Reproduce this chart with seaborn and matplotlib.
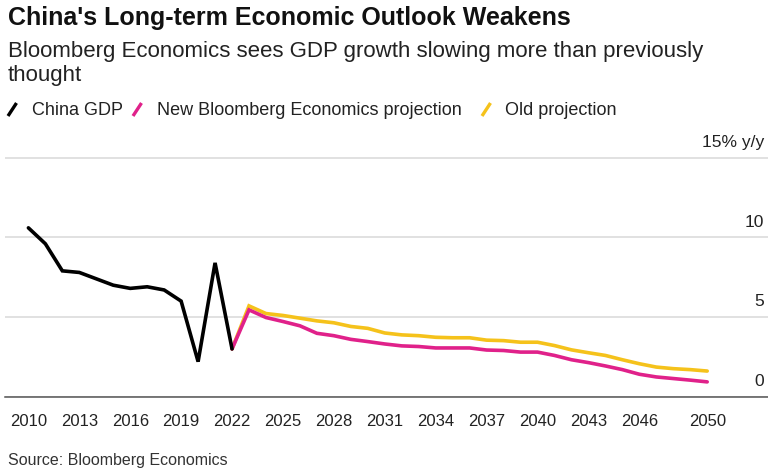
import numpy as np
import pandas as pd
import matplotlib
matplotlib.use("Agg")
import matplotlib.pyplot as plt
from matplotlib.lines import Line2D
from matplotlib.transforms import blended_transform_factory
import seaborn as sns

# ---- data ----
hist_years = [2010, 2011, 2012, 2013, 2014, 2015, 2016, 2017, 2018, 2019, 2020, 2021, 2022]
hist_gdp = [10.6, 9.6, 7.9, 7.8, 7.4, 7.0, 6.8, 6.9, 6.7, 6.0, 2.2, 8.4, 3.0]

proj_years = [2022, 2023, 2024, 2025, 2026, 2027, 2028, 2029, 2030, 2031, 2032, 2033, 2034, 2035,
              2036, 2037, 2038, 2039, 2040, 2041, 2042, 2043, 2044, 2045, 2046, 2047, 2048, 2049, 2050]
new_proj = [3.0, 5.45, 4.97, 4.72, 4.45, 3.98, 3.83, 3.6, 3.46, 3.31, 3.19, 3.15, 3.06, 3.06,
            3.06, 2.93, 2.9, 2.8, 2.8, 2.59, 2.32, 2.14, 1.93, 1.7, 1.41, 1.24, 1.14, 1.04, 0.93]
old_proj = [3.0, 5.7, 5.22, 5.1, 4.93, 4.76, 4.64, 4.41, 4.29, 4.0, 3.88, 3.83, 3.73, 3.7,
            3.7, 3.55, 3.52, 3.42, 3.42, 3.21, 2.94, 2.76, 2.59, 2.32, 2.07, 1.86, 1.76, 1.7, 1.61]

series_names = ["China GDP", "New Bloomberg Economics projection", "Old projection"]
series_colors = ["#000000", "#e0218a", "#f5c21b"]

x_ticks = [2010, 2013, 2016, 2019, 2022, 2025, 2028, 2031, 2034, 2037, 2040, 2043, 2046, 2050]
y_ticks = [0, 5, 10, 15]
y_labels = ["0", "5", "10", "15% y/y"]

title = "China's Long-term Economic Outlook Weakens"
subtitle = "Bloomberg Economics sees GDP growth slowing more than previously\nthought"
source = "Source: Bloomberg Economics"

df = pd.concat([
    pd.DataFrame({"year": hist_years, "value": hist_gdp, "series": series_names[0]}),
    pd.DataFrame({"year": proj_years, "value": new_proj, "series": series_names[1]}),
    pd.DataFrame({"year": proj_years, "value": old_proj, "series": series_names[2]}),
], ignore_index=True)

# ---- style ----
sns.set_theme(style="white")
plt.rcParams["font.family"] = ["Liberation Sans", "DejaVu Sans"]

W, H = 768, 476
fig = plt.figure(figsize=(W / 100, H / 100), dpi=100)
fig.patch.set_facecolor("white")

ylim_top = 15.5
px_per_unit = 15.93
ax_left, ax_right = 5, 768
ax_bottom_px = 396.7
ax_h = ylim_top * px_per_unit
ax = fig.add_axes([ax_left / W, (H - ax_bottom_px) / H, (ax_right - ax_left) / W, ax_h / H])

palette = dict(zip(series_names, series_colors))
# draw old first, then new, then history on top
for name in [series_names[2], series_names[1], series_names[0]]:
    sns.lineplot(data=df[df["series"] == name], x="year", y="value", color=palette[name],
                 linewidth=2.6, ax=ax, legend=False, solid_joinstyle="miter")

year_px = 16.97
x0 = 2010 - (28.4 - ax_left) / year_px
x1 = 2010 + (ax_right - 28.4) / year_px
ax.set_xlim(x0, x1)
ax.set_ylim(0, ylim_top)

ax.set_xticks(x_ticks)
ax.set_xticklabels([str(t) for t in x_ticks])
ax.set_yticks(y_ticks)
ax.set_yticklabels([])
ax.tick_params(axis="y", length=0)
ax.tick_params(axis="x", direction="out", length=4.5, width=1.0, color="#555555",
               labelsize=12, labelcolor="#222222", pad=8)
ax.set_xlabel("")
ax.set_ylabel("")

for s in ["top", "right", "left"]:
    ax.spines[s].set_visible(False)
ax.spines["bottom"].set_color("#555555")
ax.spines["bottom"].set_linewidth(1.1)
ax.yaxis.grid(True, color="#d9d9d9", linewidth=1.1)
ax.xaxis.grid(False)
ax.set_axisbelow(True)

trans = blended_transform_factory(ax.transAxes, ax.transData)
for v, lab in zip(y_ticks, y_labels):
    ax.annotate(lab, xy=(1.0, v), xycoords=trans, xytext=(-3, 7.7), textcoords="offset points",
                ha="right", va="baseline", fontsize=12.5, color="#222222")

# ---- titles ----
fig.text(8 / W, 1 - 18 / H, title, fontsize=18, fontweight="bold", color="#111111",
         ha="left", va="center")
fig.text(8 / W, 1 - 41 / H, subtitle, fontsize=16, color="#222222", ha="left", va="top",
         linespacing=1.2)

# ---- legend ----
leg_items = [
    (series_names[0], series_colors[0], 8, 31.7),
    (series_names[1], series_colors[1], 133, 156.7),
    (series_names[2], series_colors[2], 482, 505),
]
for name, col, sx, tx in leg_items:
    fig.add_artist(Line2D([sx / W, (sx + 8.5) / W], [1 - 116 / H, 1 - 103 / H],
                          transform=fig.transFigure, color=col, linewidth=2.4,
                          solid_capstyle="butt"))
    fig.text(tx / W, 1 - 110 / H, name, fontsize=13, color="#222222", ha="left", va="center")

fig.text(8 / W, 1 - 460 / H, source, fontsize=11.5, color="#333333", ha="left", va="center")

fig.savefig("out.png", dpi=100, facecolor="white")
